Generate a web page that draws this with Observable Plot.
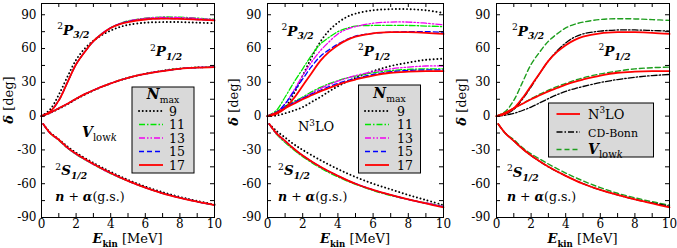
<!DOCTYPE html>
<html><head><meta charset="utf-8">
<script src="https://cdn.jsdelivr.net/npm/d3@7"></script>
<script src="https://cdn.jsdelivr.net/npm/@observablehq/plot@0.6"></script>
<style>
html,body{margin:0;padding:0;background:#fff;}
#chart{position:relative;width:677px;height:248px;overflow:hidden;}
#chart svg{position:absolute;top:0;overflow:visible;}
#chart svg, #chart svg text, #chart svg tspan{font-family:"DejaVu Serif","Liberation Serif","Noto Serif",serif !important;}
</style></head><body><div id="chart"></div>
<script>
// ---------- data ----------
const energyP = [0,0.5,1,1.5,2,2.5,3,3.5,4,4.5,5,6,7,8,9,10];
const energyS = [0.1,0.5,1,1.5,2,3,4,5,6,7,8,9,10];
const xTickLabels = [0,2,4,6,8,10];
const yTickLabels = [-90,-60,-30,0,30,60,90];
const nmaxLabels = ["9","11","13","15","17"];
const modelLabels = ["N3LO","CD-Bonn","Vlowk"];

// Panel 1: V_lowk, Nmax = 9..17
const vlowkP32_9  = [0,6,19,35,50,60,67,72,76,79,81,83,83.5,83.5,83,82.5];
const vlowkP32_11 = [0,4,14,30,46,57,66.5,73.5,78.5,82,84.5,87,88,87.8,87,86];
const vlowkP32_13 = [0,4,14,30,46,57,66.5,73.5,78.5,82,84.3,86.8,87.7,87.5,86.7,85.7];
const vlowkP32_15 = [0,4,14,30,46,57,66.5,73,78.3,81.7,84,86,86.7,86.5,85.8,85];
const vlowkP32_17 = [0,4,14,30,46,57,66.5,73,78.3,81.5,83.5,85.8,86.5,86.3,85.7,85];
const vlowkP12_9  = [0,2.8,6.5,10.5,15,19,22.7,26,29,31.7,34,37.7,40.3,42.3,43.3,43.7];
const vlowkP12_11 = [0,3,7,11,15.5,19.5,23,26.2,29,31.7,34,37.6,40.2,42.2,43.2,43.7];
const vlowkP12_13 = [0,3,7,11,15.5,19.5,23,26.2,29,31.7,34,37.6,40.2,42.2,43.2,43.7];
const vlowkP12_15 = [0,3,7,11,15.5,19.5,23,26.2,29,31.7,34,37.5,40,42,43,43.5];
const vlowkP12_17 = [0,3,7,11,15.5,19.5,23,26.2,29,31.7,34,37.5,40,42,43,43.5];
const vlowkS_9  = [-7,-14.5,-20.5,-27,-32.5,-41.5,-49.5,-56.5,-62.5,-67.5,-71.7,-75.3,-78.5];
const vlowkS_11 = [-7,-15.3,-21.5,-28.5,-34,-43,-51,-57.7,-63.5,-68.5,-72.5,-76,-79];
const vlowkS_13 = [-7,-15.2,-21.3,-28.3,-33.8,-42.8,-50.8,-57.6,-63.5,-68.5,-72.5,-76,-79];
const vlowkS_15 = [-7,-15,-21,-28,-33.5,-42.5,-50.5,-57.5,-63.5,-68.5,-72.5,-76,-79];
const vlowkS_17 = [-7,-15,-21,-28,-33.5,-42.5,-50.5,-57.5,-63.5,-68.5,-72.5,-76,-79];

// Panel 2: N3LO, Nmax = 9..17
const n3loP32_9  = [0,2,8,20,36,52,66,76,83,88,91,94,95,95,94,91.5];
const n3loP32_11 = [0,5,17,30,42,54,64,70,75,78,80,80.5,80.5,80.5,80,79.5];
const n3loP32_13 = [0,3,11,23,36,48,58,66,73,77,79.5,82.5,83.5,83.5,82.5,81];
const n3loP32_15 = [0,3,11,22,33,44,53,59,64,68,71,73.5,74.5,75,75,74.5];
const n3loP32_17 = [0,2,7,16,27,38,49,57,63,67.5,70.5,73.5,74.5,74.5,74,73];
const n3loP12_9  = [0,0.5,2.5,5,8,12.5,17,22,26.5,30.5,34,40,44.5,47.5,50,51];
const n3loP12_11 = [0,4,9,13,17,21.5,25.5,28.8,31.5,33.8,35.5,38.5,40.5,41.5,42,42];
const n3loP12_13 = [0,3.5,8,12,16,20.3,24.5,28,31,33.7,36,39.5,42,43.5,44.5,44.5];
const n3loP12_15 = [0,3.5,8,12,16,19.5,23,26.2,29,31.5,33.5,37,39.5,40.5,41,41];
const n3loP12_17 = [0,3,7,11,15,18.5,22,25,28,30.5,32.5,36,38.5,39.5,40,40];
const n3loS_9  = [-7,-13,-19,-25,-30,-39,-47,-54,-60,-65,-70,-74.5,-79];
const n3loS_11 = [-7,-16,-23.5,-30,-36,-46,-54,-60.5,-66,-70.5,-74,-77,-79.5];
const n3loS_13 = [-7,-15.5,-22.5,-29,-35,-45,-53,-60,-65.5,-70,-74,-77,-80];
const n3loS_15 = [-7,-15,-22,-29,-35,-45,-53,-60,-65.5,-70,-74,-77.5,-80.5];
const n3loS_17 = [-7,-15,-22,-29,-35,-45,-53,-60,-65.5,-70,-74,-77.5,-81];

// Panel 3: CD-Bonn (N3LO and V_lowk reuse the Nmax = 17 curves)
const cdbonnP32 = [0,1.5,6,15,26,38,49,58,65,70,73,75.5,76.5,76.5,76,75.5];
const cdbonnP12 = [0,0.8,2.5,5,8,11.8,15.5,19,22,24.3,26.3,29.8,32.5,34.5,36,37];
const cdbonnS   = [-7,-15,-22,-29,-35,-45,-53,-60,-65.5,-70,-74,-77,-80];

// ---------- styles ----------
const FONT = "DejaVu Serif";
const styles = {
  n9:  {stroke:"#000", strokeWidth:1.9, strokeDasharray:"0.1 3.6", strokeLinecap:"round"},
  n11: {stroke:"#00e600", strokeWidth:1.3, strokeDasharray:"6 2 1.5 2"},
  n13: {stroke:"#f000f0", strokeWidth:1.3, strokeDasharray:"6 2 1.5 2 1.5 2"},
  n15: {stroke:"#0000ff", strokeWidth:1.3, strokeDasharray:"5 3"},
  n17: {stroke:"#ff0000", strokeWidth:1.8},
  cdbonn: {stroke:"#000", strokeWidth:1.3, strokeDasharray:"6 2 1.5 2"},
  vlowk: {stroke:"#1e9e1e", strokeWidth:1.4, strokeDasharray:"5 3"}
};

function rich(parent, x, y, parts, size = 13, anchor = "start") {
  const t = parent.append("text").attr("x", x).attr("y", y).attr("text-anchor", anchor)
    .attr("font-family", FONT).attr("font-size", size).attr("fill", "#000");
  let shift = 0;
  for (const p of parts) {
    const ts = t.append("tspan").text(p.t);
    const target = p.sub ? size * 0.27 : p.sup ? -size * 0.42 : 0;
    ts.attr("dy", target - shift); shift = target;
    if (p.sub || p.sup) ts.attr("font-size", size * (p.small || 0.68));
    if (p.b) ts.attr("font-weight", "bold");
    if (p.i) ts.attr("font-style", "italic");
  }
  return t;
}

const lblP32 = [{t:"2", sup:true}, {t:"P", b:true, i:true}, {t:"3/2", sub:true, b:true, i:true}];
const lblP12 = [{t:"2", sup:true}, {t:"P", b:true, i:true}, {t:"1/2", sub:true, b:true, i:true}];
const lblS12 = [{t:"2", sup:true}, {t:"S", b:true, i:true}, {t:"1/2", sub:true, b:true, i:true}];
const lblNa = [{t:"n", b:true, i:true}, {t:" + "}, {t:"α", b:true, i:true}, {t:"(g.s.)"}];
const lblVlowk = [{t:"V", b:true, i:true}, {t:"low", sub:true, small:0.72}, {t:"k", sub:true, i:true, small:0.72}];
const lblN3LO = [{t:"N"}, {t:"3", sup:true}, {t:"LO"}];

function makePanel(cfg) {
  const H = 248, mT = 3, mB = 31;
  const innerW = cfg.width - cfg.marginLeft - cfg.marginRight;
  const innerH = H - mT - mB;
  const lineMarks = [];
  for (const s of cfg.series) {
    const st = styles[s.style];
    for (const [E, vals] of [[energyP, s.p32], [energyP, s.p12], [energyS, s.s]]) {
      lineMarks.push(Plot.line(E.map((e, i) => ({E: e, d: vals[i]})), {x: "E", y: "d", curve: "catmull-rom", ...st}));
    }
  }
  const tl = 4;
  const xt = d3.range(0, 11, 1), yt = d3.range(-90, 91, 15);
  const plot = Plot.plot({
    width: cfg.width, height: H,
    marginTop: mT, marginBottom: mB, marginLeft: cfg.marginLeft, marginRight: cfg.marginRight,
    style: {fontFamily: FONT, fontSize: "12px", background: "transparent", color: "#000"},
    x: {domain: [0, 10]},
    y: {domain: [-90, 100]},
    marks: [
      ...lineMarks,
      Plot.frame({stroke: "#000", strokeWidth: 1}),
      Plot.tickX(xt, {x: d => d, insetTop: innerH - tl, stroke: "#000"}),
      Plot.tickX(xt, {x: d => d, insetBottom: innerH - tl, stroke: "#000"}),
      Plot.tickY(yt, {y: d => d, insetRight: innerW - tl, stroke: "#000"}),
      Plot.tickY(yt, {y: d => d, insetLeft: innerW - tl, stroke: "#000"}),
      Plot.axisX(xTickLabels, {tickSize: 0, tickPadding: 2, tickFormat: d => String(d), label: null, fontSize: 12}),
      Plot.axisY(yTickLabels, {tickSize: 0, tickPadding: cfg.yPad, tickFormat: d => String(d), label: null, fontSize: 12})
    ]
  });
  plot.style.left = cfg.left + "px";
  const svg = d3.select(plot);
  const sx = plot.scale("x"), sy = plot.scale("y");
  const g = svg.append("g");
  for (const a of cfg.annotations) rich(g, sx.apply(a.x), sy.apply(a.y), a.parts, a.size || 13.5);
  // axis titles
  rich(g, sx.apply(5), 243, [{t:"E", b:true, i:true}, {t:"kin", sub:true, b:true, small:0.66}, {t:" [MeV]"}], 13, "middle");
  rich(g, 0, 0, [{t:"δ", b:true, i:true}, {t:" [deg]"}], 13, "middle")
    .attr("transform", `translate(${cfg.ylabX},${cfg.ylabY}) rotate(-90)`);
  // legend
  const L = cfg.legend;
  const lg = svg.append("g");
  lg.append("rect").attr("x", L.box[0]).attr("y", L.box[1]).attr("width", L.box[2]).attr("height", L.box[3])
    .attr("fill", "#d9d9d9").attr("stroke", "#000").attr("stroke-width", 1);
  if (L.title) rich(lg, L.box[0] + L.box[2] / 2, L.titleY, [{t:"N", b:true, i:true}, {t:"max", sub:true, small:0.66}], 14, "middle");
  L.rows.forEach((r, i) => {
    const st = styles[r.style];
    lg.append("line").attr("x1", L.lineX[0]).attr("x2", L.lineX[1]).attr("y1", L.rowY[i]).attr("y2", L.rowY[i])
      .attr("stroke", st.stroke).attr("stroke-width", st.strokeWidth)
      .attr("stroke-dasharray", st.strokeDasharray || null).attr("stroke-linecap", st.strokeLinecap || null);
    rich(lg, L.textX, L.rowY[i] + 4.5, r.parts, r.size || 12.5);
  });
  document.getElementById("chart").appendChild(plot);
}

const nmaxRows = nmaxLabels.map((t, i) => ({style: ["n9","n11","n13","n15","n17"][i], parts: [{t}]}));

makePanel({
  left: 0, width: 225, marginLeft: 41, marginRight: 11, yPad: 5, ylabX: 13, ylabY: 100,
  series: [
    {style: "n9", p32: vlowkP32_9, p12: vlowkP12_9, s: vlowkS_9},
    {style: "n11", p32: vlowkP32_11, p12: vlowkP12_11, s: vlowkS_11},
    {style: "n13", p32: vlowkP32_13, p12: vlowkP12_13, s: vlowkS_13},
    {style: "n15", p32: vlowkP32_15, p12: vlowkP12_15, s: vlowkS_15},
    {style: "n17", p32: vlowkP32_17, p12: vlowkP12_17, s: vlowkS_17}
  ],
  annotations: [
    {x: 0.94, y: 72, parts: lblP32},
    {x: 6.3, y: 52.6, parts: lblP12},
    {x: 2.37, y: -19, parts: lblVlowk, size: 14},
    {x: 0.83, y: -53, parts: lblS12},
    {x: 0.83, y: -75.5, parts: lblNa, size: 12.5}
  ],
  legend: {box: [132, 87, 62, 86], title: true, titleY: 99, rowY: [111, 124.5, 138, 151.5, 165], lineX: [139, 163], textX: 169, rows: nmaxRows}
});

makePanel({
  left: 225, width: 225, marginLeft: 42, marginRight: 7, yPad: 6, ylabX: 13, ylabY: 102,
  series: [
    {style: "n9", p32: n3loP32_9, p12: n3loP12_9, s: n3loS_9},
    {style: "n11", p32: n3loP32_11, p12: n3loP12_11, s: n3loS_11},
    {style: "n13", p32: n3loP32_13, p12: n3loP12_13, s: n3loS_13},
    {style: "n15", p32: n3loP32_15, p12: n3loP12_15, s: n3loS_15},
    {style: "n17", p32: n3loP32_17, p12: n3loP12_17, s: n3loS_17}
  ],
  annotations: [
    {x: 0.82, y: 71, parts: lblP32},
    {x: 5.17, y: 53, parts: lblP12},
    {x: 1.76, y: -14, parts: lblN3LO, size: 13},
    {x: 0.63, y: -53, parts: lblS12},
    {x: 0.63, y: -76, parts: lblNa, size: 12.5}
  ],
  legend: {box: [133.5, 85, 62, 88], title: true, titleY: 98, rowY: [111, 124.5, 138, 151.5, 165], lineX: [140, 164], textX: 172, rows: nmaxRows}
});

makePanel({
  left: 450, width: 227, marginLeft: 46, marginRight: 8, yPad: 6, ylabX: 16, ylabY: 102,
  series: [
    {style: "vlowk", p32: vlowkP32_17, p12: vlowkP12_17, s: vlowkS_17},
    {style: "cdbonn", p32: cdbonnP32, p12: cdbonnP12, s: cdbonnS},
    {style: "n17", p32: n3loP32_17, p12: n3loP12_17, s: n3loS_17}
  ],
  annotations: [
    {x: 0.92, y: 71, parts: lblP32},
    {x: 5.92, y: 53, parts: lblP12},
    {x: 0.63, y: -54.5, parts: lblS12},
    {x: 0.63, y: -76, parts: lblNa, size: 12.5}
  ],
  legend: {box: [98.5, 103, 105, 54], title: false, rowY: [114, 132, 149.5], lineX: [106.5, 130], textX: 138,
    rows: [
      {style: "n17", parts: lblN3LO, size: 13},
      {style: "cdbonn", parts: [{t: modelLabels[1]}], size: 11},
      {style: "vlowk", parts: lblVlowk, size: 14}
    ]}
});
</script>
</body></html>
